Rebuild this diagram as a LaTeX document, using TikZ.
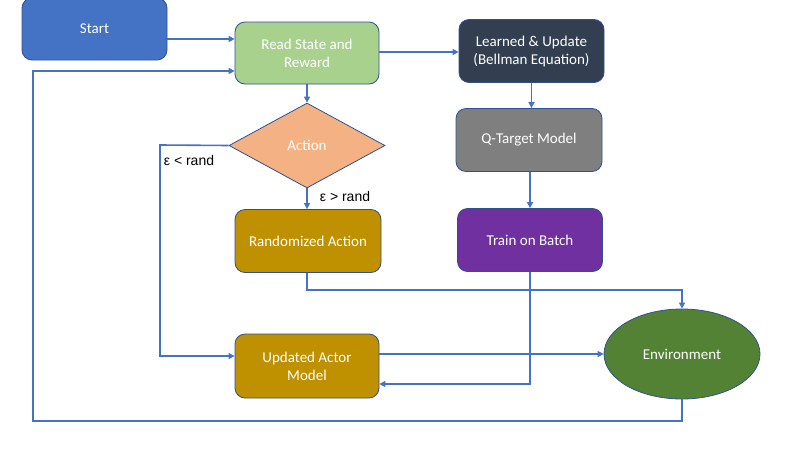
\documentclass[tikz,border=0pt]{standalone}
\usepackage{fontspec}
\setmainfont{Carlito}
\newfontfamily\lblfont{Liberation Sans}
\usetikzlibrary{shapes.geometric,arrows.meta}
\definecolor{conn}{HTML}{4472C4}
\definecolor{bord}{HTML}{2F528F}
\definecolor{cstart}{HTML}{4472C4}
\definecolor{cread}{HTML}{A9D18E}
\definecolor{clearn}{HTML}{333F50}
\definecolor{cq}{HTML}{7F7F7F}
\definecolor{ctrain}{HTML}{7030A0}
\definecolor{cact}{HTML}{F4B183}
\definecolor{cgold}{HTML}{BF9000}
\definecolor{cenv}{HTML}{548235}
\tikzset{
  box/.style={draw=bord, line width=0.8pt, rounded corners=10pt, text=white,
    minimum width=145pt, minimum height=63pt, inner sep=2pt, align=center,
    font=\fontsize{15}{18}\selectfont},
  conn/.style={draw=conn, line width=1.6pt, -{Triangle[length=6pt,width=6pt]}},
  lbl/.style={font=\lblfont\fontsize{14}{16}\selectfont, text=black, inner sep=0pt}
}
\begin{document}
\begin{tikzpicture}[x=1pt,y=-1pt]
\useasboundingbox (0,0) rectangle (800,450);
\node[box, fill=cstart, minimum height=62pt] (start) at (94.5,29) {Start};
\node[box, fill=cread, minimum width=144pt, minimum height=62pt] (read) at (307,53) {Read State and\\Reward};
\node[box, fill=clearn] (learn) at (531.5,51) {Learned \& Update\\(Bellman Equation)};
\node[box, fill=cq, minimum width=146pt] (q) at (529,140) {Q-Target Model};
\node[box, fill=ctrain] (train) at (530,240) {Train on Batch};
\node[draw=bord, line width=0.8pt, diamond, fill=cact, text=white, minimum width=156pt,
  minimum height=85pt, inner sep=0pt, font=\fontsize{15}{18}\selectfont] (act) at (307,145.5) {Action};
\node[box, fill=cgold, minimum width=146pt] (rand) at (308,241) {Randomized Action};
\node[box, fill=cgold, minimum width=144pt, minimum height=64pt] (upd) at (307,366) {Updated Actor\\Model};
\node[draw=bord, line width=0.8pt, ellipse, fill=cenv, text=white, minimum width=156pt,
  minimum height=90pt, inner sep=0pt, font=\fontsize{15}{18}\selectfont] (env) at (682,354) {Environment};
\coordinate (envb) at (682,421);
\coordinate (lb) at (33,421);
\coordinate (lt) at (33,71);
\coordinate (dl) at (160,145);
\coordinate (dlb) at (160,356);
\coordinate (rb) at (307,290);
\coordinate (rr) at (682,290);
\coordinate (tb) at (530,384);
% connectors
\draw[conn] (start.east |- 0,39) -- (read.west |- 0,39);
\draw[conn] (env.south) -- (envb) -- (lb) -- (lt) -- (read.west |- lt);
\draw[conn] (read.south) -- (act.north);
\draw[conn] (read.east |- 0,52) -- (learn.west |- 0,52);
\draw[conn] (learn.south) -- (learn.south |- q.north);
\draw[conn] (q.south -| train.north) -- (train.north);
\draw[conn] (act.west) -- (dl) -- (dlb) -- (upd.west |- dlb);
\draw[conn] (act.south) -- (act.south |- rand.north);
\draw[conn] (rand.south -| act.south) -- (rb) -- (rr) -- (env.north);
\draw[conn] (upd.east |- env.west) -- (env.west);
\draw[conn] (train.south) -- (tb) -- (upd.east |- tb);
\node[lbl] (l1) at (189,160) {ε < rand};
\node[lbl] (l2) at (345,196) {ε > rand};
\end{tikzpicture}
\end{document}
